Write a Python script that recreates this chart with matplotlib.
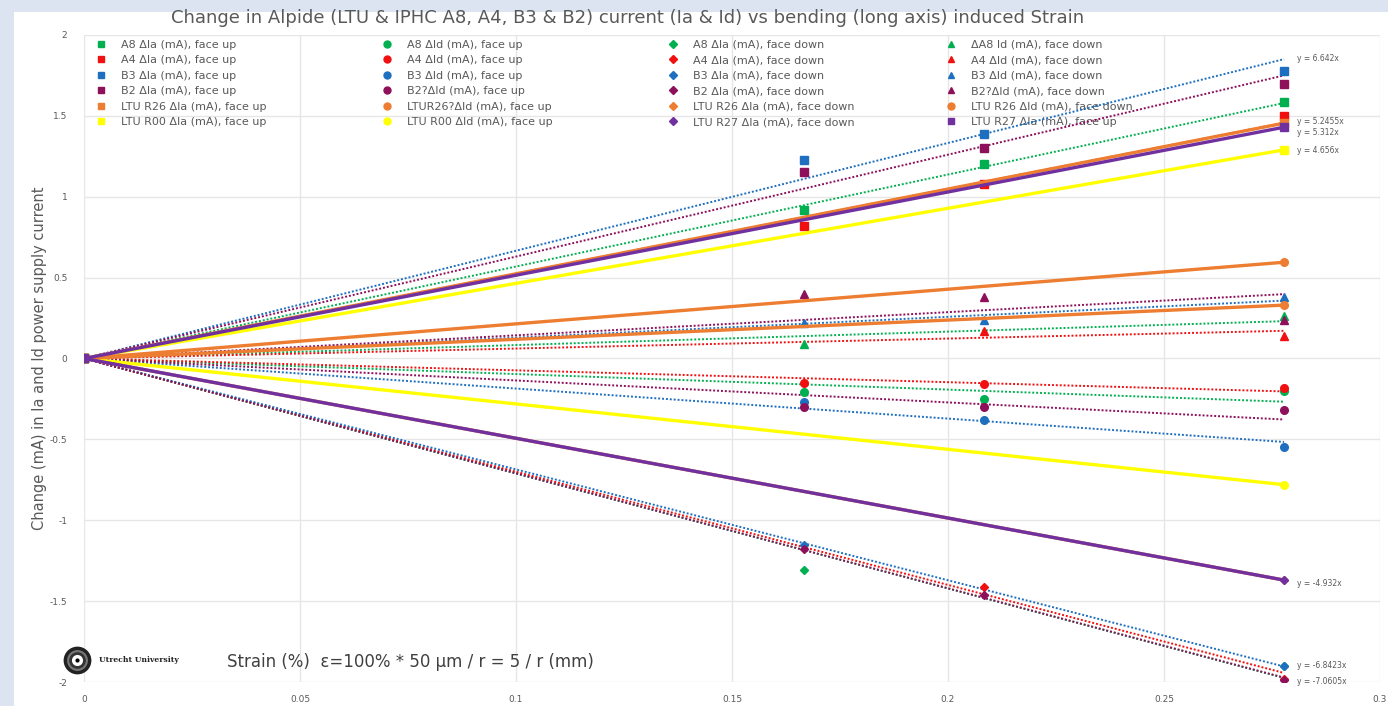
import numpy as np
import matplotlib
matplotlib.use("Agg")
import matplotlib.pyplot as plt
from matplotlib.lines import Line2D
from matplotlib.legend import Legend
from matplotlib.patches import Rectangle

nan = np.nan

# strain = 5 / r (mm), r = 30, 24, 18 mm
strain = [0.0, 0.1667, 0.2083, 0.2778]

# face up, delta Ia (mA)
a8_ia_up = [0, 0.92, 1.20, 1.585]
a4_ia_up = [0, 0.82, 1.08, 1.50]
b3_ia_up = [0, 1.226, 1.39, 1.78]
b2_ia_up = [0, 1.15, 1.30, 1.70]
r26_ia_up = [0, nan, nan, 1.455]
r00_ia_up = [0, nan, nan, 1.29]

# face up, delta Id (mA)
a8_id_up = [0, -0.21, -0.25, -0.20]
a4_id_up = [0, -0.15, -0.155, -0.185]
b3_id_up = [0, -0.27, -0.38, -0.545]
b2_id_up = [0, -0.30, -0.30, -0.32]
r26_id_up = [0, nan, nan, 0.595]
r00_id_up = [0, nan, nan, -0.78]

# face down, delta Ia (mA)
a8_ia_down = [0, -1.31, nan, -1.90]
a4_ia_down = [0, nan, -1.41, -1.98]
b3_ia_down = [0, -1.15, nan, -1.90]
b2_ia_down = [0, -1.18, -1.46, -1.99]
r26_ia_down = [0, nan, nan, -1.37]
r27_ia_down = [0, nan, nan, -1.37]

# face down, delta Id (mA)
a8_id_down = [0, 0.09, nan, 0.26]
a4_id_down = [0, nan, 0.17, 0.14]
b3_id_down = [0, 0.22, 0.235, 0.38]
b2_id_down = [0, 0.40, 0.38, 0.24]
r26_id_down = [0, nan, nan, 0.33]
r27_ia_up = [0, nan, nan, 1.43]

trend_labels = ["y = 6.642x", "y = 5.2455x", "y = 5.312x", "y = 4.656x",
                "y = -4.932x", "y = -6.8423x", "y = -7.0605x"]
trend_label_y = [1.857, 1.467, 1.40, 1.288, -1.393, -1.90, -1.994]

GREEN = '#00B050'
RED = '#F01010'
BLUE = '#1F6FC0'
PLUM = '#8E0F5A'
ORANGE = '#ED7D31'
YELLOW = '#FFFF00'
PURPLE = '#7030A0'
GREY = '#595959'

# (label, data, colour, marker, kind)  kind: 'trend' dotted fit, 'line' solid
columns = [
    [("A8 ΔIa (mA), face up", a8_ia_up, GREEN, 's', 'trend'),
     ("A4 ΔIa (mA), face up", a4_ia_up, RED, 's', 'trend'),
     ("B3 ΔIa (mA), face up", b3_ia_up, BLUE, 's', 'trend'),
     ("B2 ΔIa (mA), face up", b2_ia_up, PLUM, 's', 'trend'),
     ("LTU R26 ΔIa (mA), face up", r26_ia_up, ORANGE, 's', 'line'),
     ("LTU R00 ΔIa (mA), face up", r00_ia_up, YELLOW, 's', 'line')],
    [("A8 ΔId (mA), face up", a8_id_up, GREEN, 'o', 'trend'),
     ("A4 ΔId (mA), face up", a4_id_up, RED, 'o', 'trend'),
     ("B3 ΔId (mA), face up", b3_id_up, BLUE, 'o', 'trend'),
     ("B2?ΔId (mA), face up", b2_id_up, PLUM, 'o', 'trend'),
     ("LTUR26?ΔId (mA), face up", r26_id_up, ORANGE, 'o', 'line'),
     ("LTU R00 ΔId (mA), face up", r00_id_up, YELLOW, 'o', 'line')],
    [("A8 ΔIa (mA), face down", a8_ia_down, GREEN, 'D', 'trend'),
     ("A4 ΔIa (mA), face down", a4_ia_down, RED, 'D', 'trend'),
     ("B3 ΔIa (mA), face down", b3_ia_down, BLUE, 'D', 'trend'),
     ("B2 ΔIa (mA), face down", b2_ia_down, PLUM, 'D', 'trend'),
     ("LTU R26 ΔIa (mA), face down", r26_ia_down, ORANGE, 'D', 'line'),
     ("LTU R27 ΔIa (mA), face down", r27_ia_down, PURPLE, 'D', 'line')],
    [("ΔA8 Id (mA), face down", a8_id_down, GREEN, '^', 'trend'),
     ("A4 ΔId (mA), face down", a4_id_down, RED, '^', 'trend'),
     ("B3 ΔId (mA), face down", b3_id_down, BLUE, '^', 'trend'),
     ("B2?ΔId (mA), face down", b2_id_down, PLUM, '^', 'trend'),
     ("LTU R26 ΔId (mA), face down", r26_id_down, ORANGE, 'o', 'line'),
     ("LTU R27 ΔIa (mA), face up", r27_ia_up, PURPLE, 's', 'line')],
]

W, H = 1388, 706
fig = plt.figure(figsize=(W / 100, H / 100), dpi=100, facecolor='#DDE4F1')
fig.add_artist(Rectangle((14 / W, 0), 1, 1 - 12 / H, transform=fig.transFigure,
                         facecolor='white', edgecolor='none', zorder=0))

ax = fig.add_axes([84 / W, 1 - 682 / H, (1380 - 84) / W, (682 - 35) / H])
ax.set_facecolor('none')
ax.set_xlim(0, 0.3)
ax.set_ylim(-2, 2)
ax.set_xticks([0, 0.05, 0.1, 0.15, 0.2, 0.25, 0.3])
ax.set_xticklabels(["0", "0.05", "0.1", "0.15", "0.2", "0.25", "0.3"])
ax.set_yticks([-2, -1.5, -1, -0.5, 0, 0.5, 1, 1.5, 2])
ax.set_yticklabels(["-2", "-1.5", "-1", "-0.5", "0", "0.5", "1", "1.5", "2"])
ax.tick_params(length=0, labelsize=6.5, labelcolor=GREY, pad=12)
ax.tick_params(axis='x', pad=9)
for s in ax.spines.values():
    s.set_visible(False)
ax.grid(True, color='#E6E6E6', lw=1)
ax.set_axisbelow(True)

x = np.array(strain)
x_end = max(strain)
for col in columns:
    for label, data, c, m, kind in col:
        y = np.array(data, dtype=float)
        ok = ~np.isnan(y)
        if kind == 'trend':
            k = np.sum(x[ok] * y[ok]) / np.sum(x[ok] ** 2)
            ax.plot([0, x_end], [0, k * x_end], color=c, lw=1.4,
                    linestyle=(0, (1, 1)), zorder=3)
            ax.plot(x[ok], y[ok], linestyle='none', marker=m, color=c,
                    markersize=5.5 if m != 'D' else 4.5, zorder=4)

# solid LTU lines on top, purple last
for col in columns:
    for label, data, c, m, kind in col:
        if kind != 'line':
            continue
        y = np.array(data, dtype=float)
        ok = ~np.isnan(y)
        z = 6 if c == PURPLE else 5
        ax.plot(x[ok], y[ok], color=c, lw=2.4, marker=m,
                markersize=5.5 if m != 'D' else 4.5, zorder=z)

for txt, yy in zip(trend_labels, trend_label_y):
    ax.text(0.2808, yy, txt, fontsize=5.5, color=GREY, va='center', ha='left')

# four legend columns
col_x = [90, 376, 662, 940]
for xi, col in zip(col_x, columns):
    handles = [Line2D([], [], linestyle='none', marker=m, color=c,
                      markersize=5 if m != 'D' else 4) for _, _, c, m, _ in col]
    labels = [lab for lab, _, _, _, _ in col]
    leg = Legend(ax, handles, labels, loc='upper left',
                 bbox_to_anchor=(xi / W, 1 - 34 / H), bbox_transform=fig.transFigure,
                 frameon=False, fontsize=8, labelcolor=GREY, borderpad=0,
                 handlelength=1.0, handletextpad=1.3, labelspacing=0.5)
    leg.set_zorder(2)
    ax.add_artist(leg)

ax.set_ylabel("Change (mA) in Ia and Id power supply current", fontsize=10.5,
              color=GREY, labelpad=2)
fig.text(628 / W, 1 - 18 / H,
         "Change in Alpide (LTU & IPHC A8, A4, B3 & B2) current (Ia & Id) vs bending (long axis) induced Strain",
         ha='center', va='center', fontsize=13, color=GREY)
fig.text(227 / W, 1 - 662 / H, "Strain (%)  ε=100% * 50 µm / r = 5 / r (mm)",
         ha='left', va='center', fontsize=12, color='#404040')

# Utrecht University logo
lx, ly = 77 / W, 1 - 660 / H
for ms, fc in [(20, '#222222'), (15, '#777777'), (12, '#333333'), (8, 'white'), (3, 'black')]:
    fig.add_artist(Line2D([lx], [ly], marker='o', markersize=ms, color=fc,
                          markeredgewidth=0, transform=fig.transFigure))
fig.text(99 / W, ly, "Utrecht University", fontsize=5.5, family='DejaVu Serif',
         weight='bold', color='#222222', va='center', ha='left')

fig.savefig('out.png', dpi=100, facecolor=fig.get_facecolor())
